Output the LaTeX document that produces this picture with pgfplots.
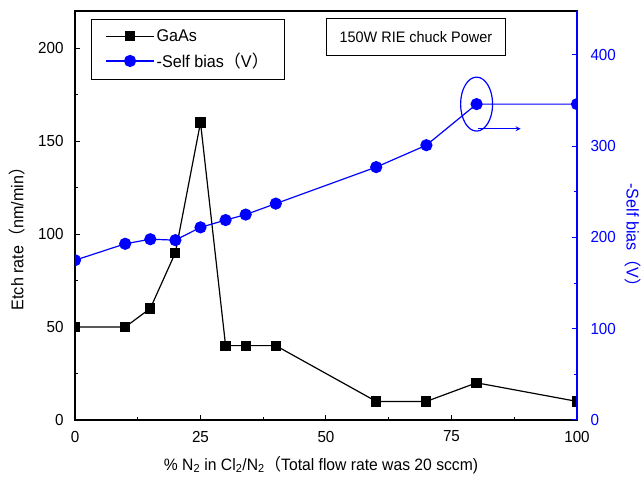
\documentclass[border=0pt]{standalone}
\usepackage{fontspec}
\setmainfont{Liberation Sans}[FakeStretch=0.95]
\newfontfamily\cjk{Noto Sans CJK SC}
\usepackage{pgfplots}
\pgfplotsset{compat=1.18}
\definecolor{sbblue}{RGB}{0,0,255}

\pgfplotstableread{
x y
0 50
10 50
15 60
20 90
25 160
30 40
34 40
40 40
60 10
70 10
80 20
100 10
}\gaas

\pgfplotstableread{
x y
0 175
10 193
15 198
20 197
25 211
30 219
34 225
40 237
60 277
70 301
80 346
100 346
}\bias

\newcommand\tickf{\fontsize{16}{19}\selectfont}
\newcommand\labf{\fontsize{17}{20}\selectfont}
\newcommand\xlabf{\fontsize{16.5}{20}\selectfont}
\newcommand\titf{\fontsize{15.2}{18}\selectfont}

\begin{document}
\begin{tikzpicture}
\useasboundingbox (-75pt,-59pt) rectangle (566pt,420pt);
\pgfplotsset{
  every axis/.append style={
    scale only axis, width=502pt, height=409pt,
    xmin=0, xmax=100,
    tick align=inside,
    major tick length=5pt, minor tick length=3pt,
    font=\tickf,
    tick label style={font=\tickf},
    label style={font=\labf},
    /pgf/number format/assume math mode=true,
    axis line style={line width=1.2pt},
    every tick/.style={line width=1pt},
    clip marker paths=true,
  },
  mylegimg/.style={legend image code/.code={
    \draw[mark repeat=2,mark phase=2] plot coordinates {(0pt,0pt) (24pt,0pt) (48pt,0pt)};}},
}
\begin{axis}[
  at={(0pt,0pt)}, anchor=south west,
  ymin=0, ymax=220,
  xtick={0,25,50,75,100}, ytick={0,50,100,150,200},
  minor x tick num=1, minor y tick num=1,
  xtick pos=bottom, ytick pos=left,
  xticklabel style={anchor=center, yshift=-16.5pt},
  yticklabel style={anchor=east, xshift=-8pt},
  xlabel={\% N\textsubscript{2} in Cl\textsubscript{2}/N\textsubscript{2}{\cjk （}Total flow rate was 20 sccm)},
  ylabel={Etch rate{\cjk （}nm/min{\cjk ）}},
  xlabel style={at={(axis description cs:0.49,-0.110)}, anchor=center, font=\xlabf},
  ylabel style={at={(axis description cs:-0.1155,0.4535)}, anchor=center},
  mylegimg,
  legend style={at={(0.032,0.98)}, anchor=north west, draw=black, line width=0.8pt,
    font=\labf, inner xsep=14pt, inner ysep=8pt,
    row sep=6pt},
  legend cell align=left,
]
\addplot[black, line width=1.2pt, mark=square*, mark size=4.5pt, mark options={solid}] table {\gaas};
\addlegendentry{GaAs}
\addlegendimage{sbblue, line width=1.2pt, mark=*, mark size=5.5pt}
\addlegendentry{-Self bias{\cjk （}V{\cjk ）}}
\node[draw=black, line width=0.8pt, anchor=north west, minimum width=179pt, minimum height=37pt, inner sep=4pt, font=\titf]
  at (rel axis cs:0.5,0.983) {150W RIE chuck Power};
\end{axis}
\begin{axis}[
  at={(0pt,0pt)}, anchor=south west,
  ymin=0, ymax=448,
  axis y line*=right, axis x line=none,
  ytick={0,100,200,300,400}, minor y tick num=1,
  y axis line style={sbblue},
  ytick style={sbblue, line width=1pt},
  minor y tick style={sbblue},
  yticklabel style={sbblue, anchor=west, xshift=10pt},
  ylabel={-Self bias{\cjk （}V{\cjk ）}},
  ylabel style={sbblue, rotate=180, at={(axis description cs:1.1116,0.441)}, anchor=center},
]
\addplot[sbblue, line width=1.2pt, mark=*, mark size=5.5pt] table {\bias};
\draw[sbblue, line width=1.2pt] (axis cs:80,346) ellipse [x radius=16pt, y radius=27pt];
\draw[sbblue, line width=1.2pt, -stealth] (axis cs:80.2,319) -- ++(43pt,0pt);
\end{axis}
\end{tikzpicture}
\end{document}
